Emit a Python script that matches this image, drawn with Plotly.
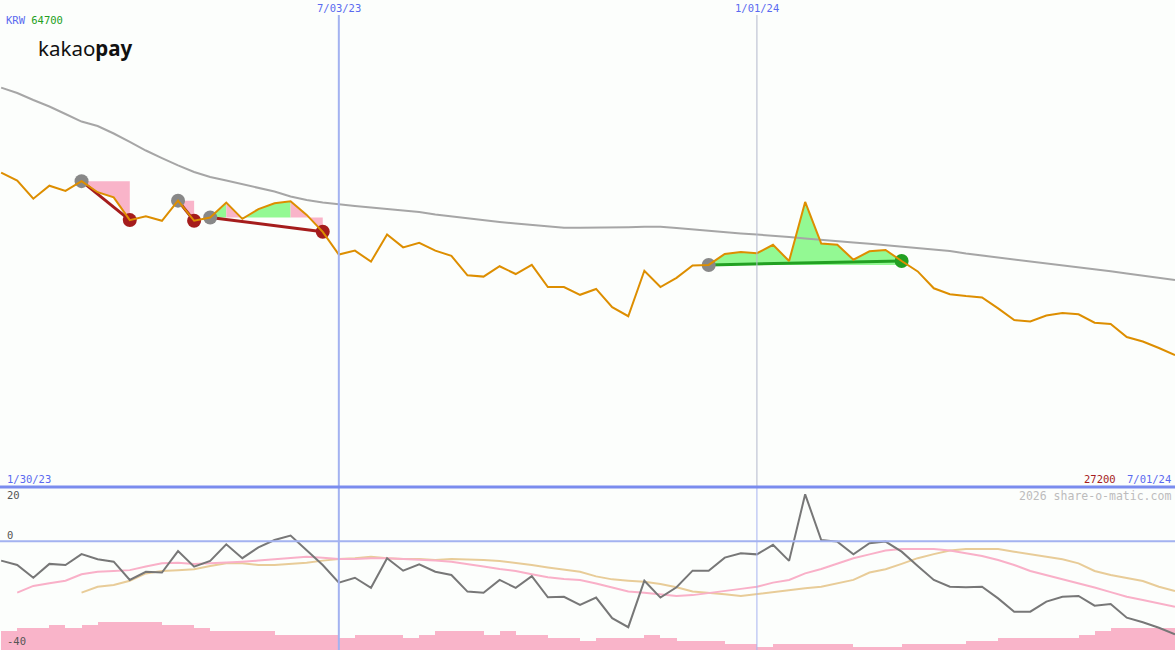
import pandas as pd
import plotly.graph_objects as go

W, H = 1175, 650

dates = pd.date_range("2023-02-06", periods=74, freq="7D")

price = [51400, 50800, 49400, 50400, 50000, 50750, 49900, 49500, 47750, 48050,
         47700, 49250, 47700, 47950, 49100, 47850, 48600, 49050, 49200, 48150,
         46850, 45100, 45400, 44550, 46650, 45650, 46000, 45400, 45000, 43500,
         43400, 44200, 43600, 44300, 42600, 42600, 42000, 42450, 41050, 40350,
         43850, 42600, 43300, 44250, 44300, 45150, 45300, 45200, 45850, 44600,
         49150, 45950, 45850, 44700, 45350, 45450, 44600, 43800, 42500, 42050,
         41900, 41800, 40950, 40050, 39950, 40400, 40600, 40500, 39850, 39750,
         38750, 38400, 37900, 37350]

ma_long = [57950, 57540, 57000, 56500, 55920, 55340, 55000, 54420, 53770, 53110,
           52530, 51960, 51460, 51070, 50800, 50530, 50260, 49950, 49570, 49300,
           49110, 48950, 48840, 48720, 48610, 48490, 48380, 48180, 48030, 47880,
           47720, 47610, 47490, 47380, 47260, 47170, 47170, 47170, 47170, 47210,
           47240, 47240, 47140, 47030, 46910, 46800, 46720, 46640, 46570, 46450,
           46340, 46220, 46100, 46030, 45930, 45810, 45700, 45580, 45450, 45370,
           45180, 45030, 44870, 44730, 44600, 44450, 44290, 44120, 43960, 43810,
           43640, 43470, 43290, 43140]

osc = [-7.1, -8.7, -13.4, -8.3, -8.7, -4.7, -6.6, -7.5, -14.2, -11.2,
       -11.5, -3.6, -9.3, -7.2, -1.1, -6.2, -2.2, 0.5, 2.1, -3.2,
       -8.7, -15.2, -13.4, -17.1, -6.2, -10.8, -8.5, -11.2, -12.4, -18.5,
       -18.9, -14.2, -17.1, -12.8, -20.6, -20.4, -23.4, -20.7, -28.3, -31.6,
       -14.5, -20.7, -16.9, -10.8, -10.8, -6.0, -4.4, -4.8, -1.3, -7.2,
       17.3, 0.5, -0.1, -4.8, -0.7, -0.1, -3.8, -9.1, -14.2, -16.7,
       -16.9, -16.7, -21.0, -25.9, -25.9, -22.2, -20.4, -20.1, -23.7, -23.1,
       -28.1, -29.8, -31.8, -34.2]

osc_fast = [None, -18.9, -16.4, -15.4, -14.5, -12.1, -11.2, -10.9, -10.6, -9.3,
            -8.1, -7.9, -8.3, -8.1, -7.9, -7.5, -7.1, -6.6, -6.0, -5.7,
            -6.0, -6.5, -6.5, -6.2, -6.2, -6.5, -6.6, -7.1, -7.5, -8.3,
            -9.3, -10.2, -10.9, -12.1, -13.2, -13.9, -14.2, -15.5, -17.1, -18.5,
            -18.9, -19.5, -20.1, -19.8, -19.1, -18.3, -17.5, -16.7, -15.2, -14.2,
            -11.8, -10.2, -8.3, -6.2, -4.8, -3.4, -2.8, -2.8, -2.8, -3.4,
            -4.4, -5.4, -6.9, -8.7, -10.9, -12.4, -13.9, -15.4, -17.0, -18.7,
            -20.4, -21.6, -22.9, -24.1]

osc_slow = [None, None, None, None, None, -18.9, -16.7, -16.1, -14.5, -11.8,
            -10.9, -10.6, -10.3, -9.1, -8.1, -8.1, -8.7, -8.7, -8.3, -7.9,
            -7.1, -6.5, -6.2, -5.7, -6.2, -6.5, -6.5, -6.9, -6.5, -6.6,
            -6.9, -7.2, -7.9, -8.7, -9.6, -10.3, -11.2, -12.9, -14.0, -14.5,
            -14.9, -15.7, -16.9, -18.5, -18.9, -19.5, -20.1, -19.4, -18.5, -17.9,
            -17.3, -16.7, -15.4, -14.2, -11.5, -10.3, -8.3, -6.2, -4.7, -3.4,
            -2.8, -2.8, -2.8, -3.8, -4.8, -5.7, -6.6, -8.1, -10.9, -12.4,
            -13.6, -14.6, -16.7, -18.3]

volume = [7.0, 8.2, 8.2, 9.2, 8.2, 9.2, 10.3, 10.3, 10.3, 10.3,
          9.2, 9.2, 8.2, 7.0, 7.0, 7.0, 7.0, 5.5, 5.5, 5.5,
          5.5, 4.5, 5.5, 5.5, 5.5, 4.5, 5.5, 7.0, 7.0, 7.0,
          5.5, 7.0, 5.5, 5.5, 4.5, 4.5, 3.3, 4.5, 4.5, 4.5,
          5.5, 4.5, 3.3, 3.3, 3.3, 2.2, 2.2, 1.2, 2.2, 2.2,
          2.2, 2.2, 2.2, 1.2, 1.2, 1.2, 2.2, 2.2, 2.2, 2.2,
          3.3, 3.3, 4.5, 4.5, 4.5, 4.5, 4.5, 5.5, 7.0, 8.2,
          8.2, 8.2, 8.2]

# trades: entry index, exit index, exit result
trade_entry = [5, 11, 13, 44]
trade_exit = [8, 12, 20, 56]
trade_win = [False, False, False, True]
# shaded runs: (start, end, entry index of level, gain?)
fill_runs = [(5, 8, 5, False), (11, 12, 11, False), (13, 14, 13, True),
             (14, 15, 13, False), (15, 18, 13, True), (18, 20, 13, False),
             (44, 56, 44, True)]

price_top, price_bottom = 64700, 27200
osc_top, osc_bottom = 20, -40

ORANGE = "#dd8e00"
PINK = "#f9b4c9"
GREEN_FILL = "#93f993"
MONO = "DejaVu Sans Mono"

fig = go.Figure()

split = 163 / H  # lower panel height fraction

# fills
for a, b, lv, gain in fill_runs:
    xs = [dates[a]] + list(dates[a:b + 1]) + [dates[b]]
    ys = [price[lv]] + price[a:b + 1] + [price[lv]]
    fig.add_trace(go.Scatter(x=xs, y=ys, mode="lines", fill="toself",
                             fillcolor=GREEN_FILL if gain else PINK,
                             line=dict(width=0), hoverinfo="skip"))

# long moving average
fig.add_trace(go.Scatter(x=dates, y=ma_long, mode="lines",
                         line=dict(color="#a6a6a6", width=2)))

# trade lines
for e, x, win in zip(trade_entry, trade_exit, trade_win):
    fig.add_trace(go.Scatter(x=[dates[e], dates[x]], y=[price[e], price[x]],
                             mode="lines",
                             line=dict(color="#22a022" if win else "#a51c1c", width=3)))

# entry / exit markers
fig.add_trace(go.Scatter(x=[dates[i] for i in trade_entry], y=[price[i] for i in trade_entry],
                         mode="markers", marker=dict(size=14, color="#888888")))
fig.add_trace(go.Scatter(x=[dates[i] for i in trade_exit], y=[price[i] for i in trade_exit],
                         mode="markers",
                         marker=dict(size=14, color=["#22a022" if w else "#a51c1c" for w in trade_win])))

# price
fig.add_trace(go.Scatter(x=dates, y=price, mode="lines", line=dict(color=ORANGE, width=2)))

# lower panel
week = pd.Timedelta(days=7)
fig.add_trace(go.Bar(x=[d + week / 2 for d in dates[:-1]], y=volume, base=osc_bottom,
                     width=week.total_seconds() * 1000, marker=dict(color=PINK, line=dict(width=0)),
                     yaxis="y2"))
fig.add_trace(go.Scatter(x=dates, y=osc_slow, mode="lines", line=dict(color="#e8cc98", width=2),
                         yaxis="y2"))
fig.add_trace(go.Scatter(x=dates, y=osc_fast, mode="lines", line=dict(color="#f9b0c8", width=2),
                         yaxis="y2"))
fig.add_trace(go.Scatter(x=dates, y=osc, mode="lines", line=dict(color="#777777", width=2),
                         yaxis="y2"))

shapes = [
    dict(type="line", xref="x", yref="paper", x0="2023-07-03", x1="2023-07-03",
         y0=0, y1=1 - 15 / H, line=dict(color="#a3b2f0", width=2)),
    dict(type="line", xref="x", yref="paper", x0="2024-01-01", x1="2024-01-01",
         y0=split, y1=1 - 15 / H, line=dict(color="#b4b8cc", width=1)),
    dict(type="line", xref="x", yref="paper", x0="2024-01-01", x1="2024-01-01",
         y0=0, y1=split, line=dict(color="#a8b4f0", width=1)),
    dict(type="line", xref="paper", yref="paper", x0=0, x1=1, y0=split, y1=split,
         line=dict(color="#7a8cee", width=3)),
    dict(type="line", xref="paper", yref="y2", x0=0, x1=1, y0=0, y1=0,
         line=dict(color="#a3b2f0", width=2)),
]


def px(x):
    return x / W


def py(y):
    return 1 - y / H


BLUE = "#5a6af0"
ann = [
    dict(x=px(4), y=py(20), text="KRW <span style='color:#22a022'>64700</span>",
         xanchor="left", font=dict(family=MONO, size=10.5, color=BLUE)),
    dict(x=px(36), y=py(48), text="kakao<b>pay</b>", xanchor="left",
         font=dict(family="Noto Sans", size=20.5, color="#111111")),
    dict(x="2023-07-03", xref="x", y=py(8), text="7/03/23",
         font=dict(family=MONO, size=10.5, color=BLUE)),
    dict(x="2024-01-01", xref="x", y=py(8), text="1/01/24",
         font=dict(family=MONO, size=10.5, color=BLUE)),
    dict(x=px(5), y=py(479), text="1/30/23", xanchor="left",
         font=dict(family=MONO, size=10.5, color=BLUE)),
    dict(x=px(1118), y=py(479), text="27200", xanchor="right",
         font=dict(family=MONO, size=10.5, color="#a51c1c")),
    dict(x=px(1173), y=py(479), text="7/01/24", xanchor="right",
         font=dict(family=MONO, size=10.5, color=BLUE)),
    dict(x=px(1173), y=py(496), text="2026 share-o-matic.com", xanchor="right",
         font=dict(family=MONO, size=11.5, color="#bcbcbc")),
    dict(x=px(5), y=py(495), text="20", xanchor="left",
         font=dict(family=MONO, size=10.5, color="#555555")),
    dict(x=px(5), y=py(535), text="0", xanchor="left",
         font=dict(family=MONO, size=10.5, color="#555555")),
    dict(x=px(5), y=py(641), text="-40", xanchor="left",
         font=dict(family=MONO, size=10.5, color="#555555")),
]
for a in ann:
    a.setdefault("xref", "paper")
    a["yref"] = "paper"
    a["showarrow"] = False
    a["yanchor"] = "middle"

fig.update_layout(
    width=W, height=H,
    margin=dict(l=0, r=0, t=0, b=0),
    paper_bgcolor="#fcfefc", plot_bgcolor="#fcfefc",
    showlegend=False, bargap=0,
    xaxis=dict(type="date", range=["2023-02-05 12:00", "2024-07-01"], visible=False,
               showgrid=False, zeroline=False, fixedrange=True),
    yaxis=dict(domain=[split, 1], range=[price_bottom, price_top], visible=False,
               showgrid=False, zeroline=False),
    yaxis2=dict(domain=[0, split], range=[osc_bottom, osc_top], visible=False,
                showgrid=False, zeroline=False, anchor="x"),
    shapes=shapes, annotations=ann,
    hovermode=False,
)

fig.write_html(
    "out.html",
    config={"displayModeBar": False},
    post_script="document.body.style.margin='0';document.body.style.overflow='hidden';"
                "document.body.style.background='#fcfefc';",
)
